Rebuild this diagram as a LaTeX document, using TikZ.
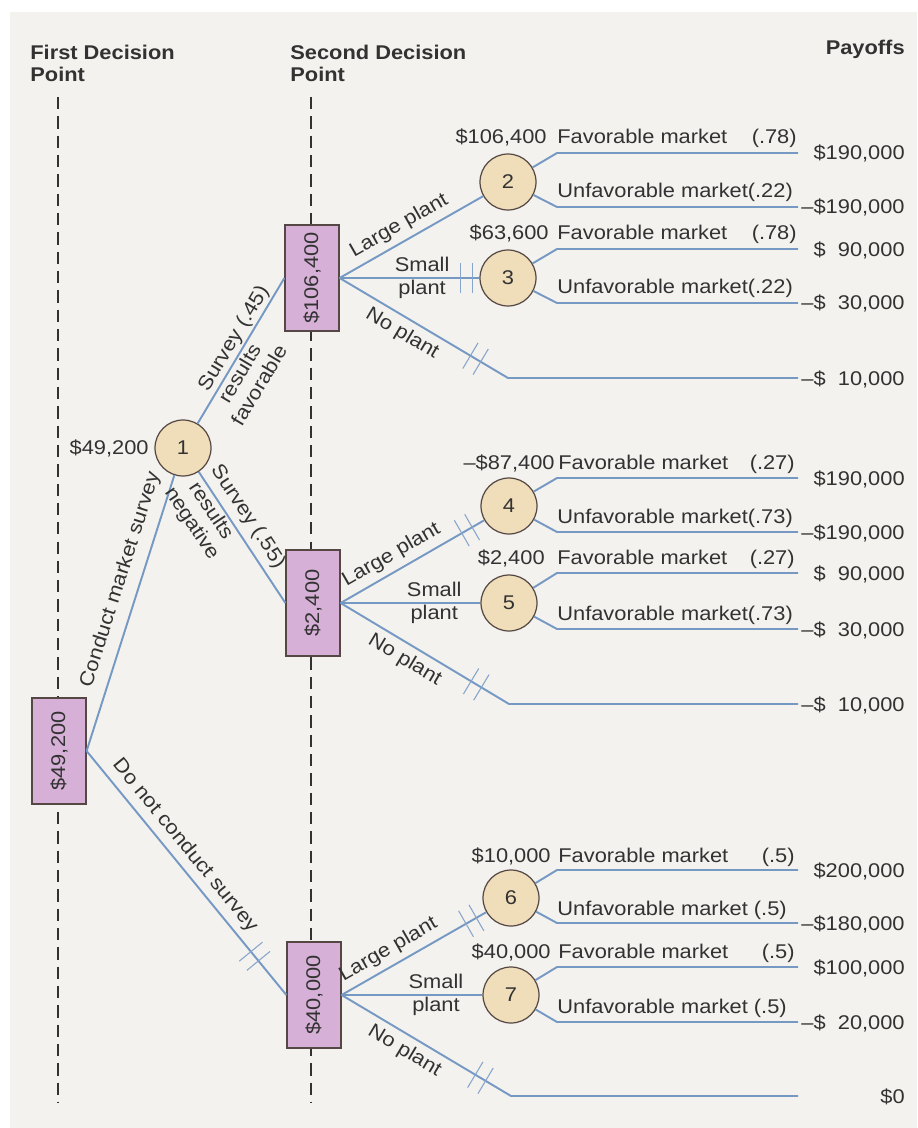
\documentclass[tikz,border=0pt]{standalone}
\usepackage{fontspec}
\usepackage{graphicx}
\setmainfont[FakeStretch=1.1]{Liberation Sans}
\usetikzlibrary{decorations.markings}
\definecolor{bg}{RGB}{243,242,239}
\definecolor{branch}{RGB}{118,153,196}
\definecolor{hashc}{RGB}{135,165,203}
\definecolor{boxfill}{RGB}{214,176,214}
\definecolor{circfill}{RGB}{240,222,186}
\definecolor{ink}{RGB}{50,50,50}
\definecolor{edge}{RGB}{85,72,68}
\begin{document}
\begin{tikzpicture}[x=0.02cm,y=-0.02cm,
  font=\fontsize{11.3}{13}\selectfont, text=ink,
  br/.style={draw=branch, line width=1.1pt, line join=round},
  guide/.style={draw=ink, line width=0.8pt, dash pattern=on 7pt off 4pt},
  dbox/.style={draw=edge, fill=boxfill, line width=0.7pt, minimum width=1.08cm, minimum height=2.12cm, inner sep=0pt},
  chance/.style={circle, draw=edge, fill=circfill, line width=0.7pt, minimum size=1.12cm, inner sep=0pt},
  pruned/.style={postaction={decorate, decoration={markings, mark=at position #1 with {\draw[hashc, line width=0.6pt] (-3.4pt,-8.5pt)--(-3.4pt,8.5pt) (3.4pt,-8.5pt)--(3.4pt,8.5pt);}}}},
  lbl/.style={inner sep=0pt, anchor=base west},
  val/.style={inner sep=0pt, anchor=base east},
  head/.style={font=\fontsize{11.3}{12.6}\selectfont\bfseries, align=left, anchor=north west, inner sep=0pt},
]
% background
\fill[white] (0,0) rectangle (917,1128);
\fill[bg] (10,12) rectangle (917,1128);

% headings
\node[head] (h1) at (30,45) {First Decision\\Point};
\node[head] (h2) at (290,45) {Second Decision\\Point};
\node[head, anchor=base east] (h3) at (905,55) {Payoffs};

% decision-point guide lines
\coordinate (g1t) at (58,97);  \coordinate (g1b) at (58,1103);
\coordinate (g2t) at (311,97); \coordinate (g2b) at (311,1103);
\draw[guide] (g1t) -- (g1b);
\draw[guide] (g2t) -- (g2b);

% decision boxes
\node[dbox] (b0) at (59,751)  {\rotatebox{90}{\$49,200}};
\node[dbox] (b1) at (312,278) {\rotatebox{90}{\$106,400}};
\node[dbox] (b2) at (313,603) {\rotatebox{90}{\$2,400}};
\node[dbox] (b3) at (314,995) {\rotatebox{90}{\$40,000}};

% chance nodes
\node[chance] (c1) at (183,448) {1};
\node[chance] (c2) at (508,182) {2};
\node[chance] (c3) at (508,278) {3};
\node[chance] (c4) at (509,506) {4};
\node[chance] (c5) at (509,603) {5};
\node[chance] (c6) at (511,898) {6};
\node[chance] (c7) at (511,995) {7};

\node[anchor=east, inner sep=0pt] (v1) at (149,448) {\$49,200};

% first decision
\draw[br] (b0.east) -- node[sloped, above=2pt, pos=0.6] (t0a) {Conduct market survey} (c1);
\draw[br, pruned=151pt] (b0.east) -- node[sloped, above, pos=0.43] (t0b) {Do not conduct survey} (b3.west);

% survey outcomes
\draw[br] (c1) -- node[sloped, above, inner sep=1pt, pos=0.54] (t1a) {Survey (.45)}
  node[sloped, below, inner sep=1pt, pos=0.38, align=center] (t1b) {results\\favorable} (b1.west);
\draw[br] (c1) -- node[sloped, above, pos=0.41] (t1c) {Survey (.55)}
  node[sloped, below, inner sep=1pt, pos=0.25, align=center] (t1d) {results\\negative} (b2.west);

% second decisions: box 1
\coordinate (n1) at (508,378); \coordinate (e1n) at (798,378);
\draw[br] (b1.east) -- node[sloped, above, pos=0.47] (t2a) {Large plant} (c2);
\draw[br, pruned=72pt] (b1.east) -- node[pos=0.59, align=center] (t2b) {Small\\plant} (c3);
\draw[br, pruned=90pt] (b1.east) -- node[sloped, below, pos=0.42] (t2c) {No plant} (n1) -- (e1n);

% box 2
\coordinate (n2) at (509,704); \coordinate (e2n) at (798,704);
\draw[br, pruned=83pt] (b2.east) -- node[sloped, above, pos=0.41] (t3a) {Large plant} (c4);
\draw[br] (b2.east) -- node[pos=0.67, align=center] (t3b) {Small\\plant} (c5);
\draw[br, pruned=90pt] (b2.east) -- node[sloped, below, pos=0.43] (t3c) {No plant} (n2) -- (e2n);

% box 3
\coordinate (n3) at (511,1096); \coordinate (e3n) at (798,1096);
\draw[br, pruned=85pt] (b3.east) -- node[sloped, above, pos=0.38] (t4a) {Large plant} (c6);
\draw[br] (b3.east) -- node[pos=0.67, align=center] (t4b) {Small\\plant} (c7);
\draw[br, pruned=92pt] (b3.east) -- node[sloped, below, pos=0.42] (t4c) {No plant} (n3) -- (e3n);

% chance branches
\coordinate (k2f) at (557,153);  \coordinate (e2f) at (798,153);
\coordinate (k2u) at (557,207);  \coordinate (e2u) at (798,207);
\coordinate (k3f) at (557,249);  \coordinate (e3f) at (798,249);
\coordinate (k3u) at (557,303);  \coordinate (e3u) at (798,303);
\coordinate (k4f) at (557,478);  \coordinate (e4f) at (798,478);
\coordinate (k4u) at (557,532);  \coordinate (e4u) at (798,532);
\coordinate (k5f) at (557,573);  \coordinate (e5f) at (798,573);
\coordinate (k5u) at (557,629);  \coordinate (e5u) at (798,629);
\coordinate (k6f) at (557,870);  \coordinate (e6f) at (798,870);
\coordinate (k6u) at (557,923);  \coordinate (e6u) at (798,923);
\coordinate (k7f) at (557,967);  \coordinate (e7f) at (798,967);
\coordinate (k7u) at (557,1022); \coordinate (e7u) at (798,1022);
\draw[br] (c2) -- (k2f) -- (e2f);  \draw[br] (c2) -- (k2u) -- (e2u);
\draw[br] (c3) -- (k3f) -- (e3f);  \draw[br] (c3) -- (k3u) -- (e3u);
\draw[br] (c4) -- (k4f) -- (e4f);  \draw[br] (c4) -- (k4u) -- (e4u);
\draw[br] (c5) -- (k5f) -- (e5f);  \draw[br] (c5) -- (k5u) -- (e5u);
\draw[br] (c6) -- (k6f) -- (e6f);  \draw[br] (c6) -- (k6u) -- (e6u);
\draw[br] (c7) -- (k7f) -- (e7f);  \draw[br] (c7) -- (k7u) -- (e7u);

% branch labels
\node[val] (v2) at (547,144) {\$106,400};
\node[lbl] (f2) at (557,144) {Favorable market};
\node[val] (q2) at (797,144) {(.78)};
\node[lbl] (u2) at (557,198) {Unfavorable market(.22)};

\node[val] (v3) at (549,240) {\$63,600};
\node[lbl] (f3) at (557,240) {Favorable market};
\node[val] (q3) at (797,240) {(.78)};
\node[lbl] (u3) at (557,294) {Unfavorable market(.22)};

\node[val] (v4) at (555,469) {--\$87,400};
\node[lbl] (f4) at (558,469) {Favorable market};
\node[val] (q4) at (795,469) {(.27)};
\node[lbl] (u4) at (557,523) {Unfavorable market(.73)};

\node[val] (v5) at (545,564) {\$2,400};
\node[lbl] (f5) at (557,564) {Favorable market};
\node[val] (q5) at (795,564) {(.27)};
\node[lbl] (u5) at (557,620) {Unfavorable market(.73)};

\node[val] (v6) at (551,862) {\$10,000};
\node[lbl] (f6) at (558,862) {Favorable market};
\node[val] (q6) at (795,862) {(.5)};
\node[lbl] (u6) at (557,915) {Unfavorable market (.5)};

\node[val] (v7) at (551,958) {\$40,000};
\node[lbl] (f7) at (558,958) {Favorable market};
\node[val] (q7) at (795,958) {(.5)};
\node[lbl] (u7) at (557,1013) {Unfavorable market (.5)};

% payoffs
\node[val] (p2f) at (905,160) {\$190,000};
\node[val] (p2u) at (905,214) {--\$190,000};
\node[val] (p3f) at (905,256) {\$\phantom{1}90,000};
\node[val] (p3u) at (905,310) {--\$\phantom{1}30,000};
\node[val] (p1n) at (905,385) {--\$\phantom{1}10,000};
\node[val] (p4f) at (905,485) {\$190,000};
\node[val] (p4u) at (905,539) {--\$190,000};
\node[val] (p5f) at (905,580) {\$\phantom{1}90,000};
\node[val] (p5u) at (905,636) {--\$\phantom{1}30,000};
\node[val] (p2n) at (905,711) {--\$\phantom{1}10,000};
\node[val] (p6f) at (905,877) {\$200,000};
\node[val] (p6u) at (905,930) {--\$180,000};
\node[val] (p7f) at (905,974) {\$100,000};
\node[val] (p7u) at (905,1029) {--\$\phantom{1}20,000};
\node[val] (p3n) at (905,1103) {\$0};
\end{tikzpicture}
\end{document}
